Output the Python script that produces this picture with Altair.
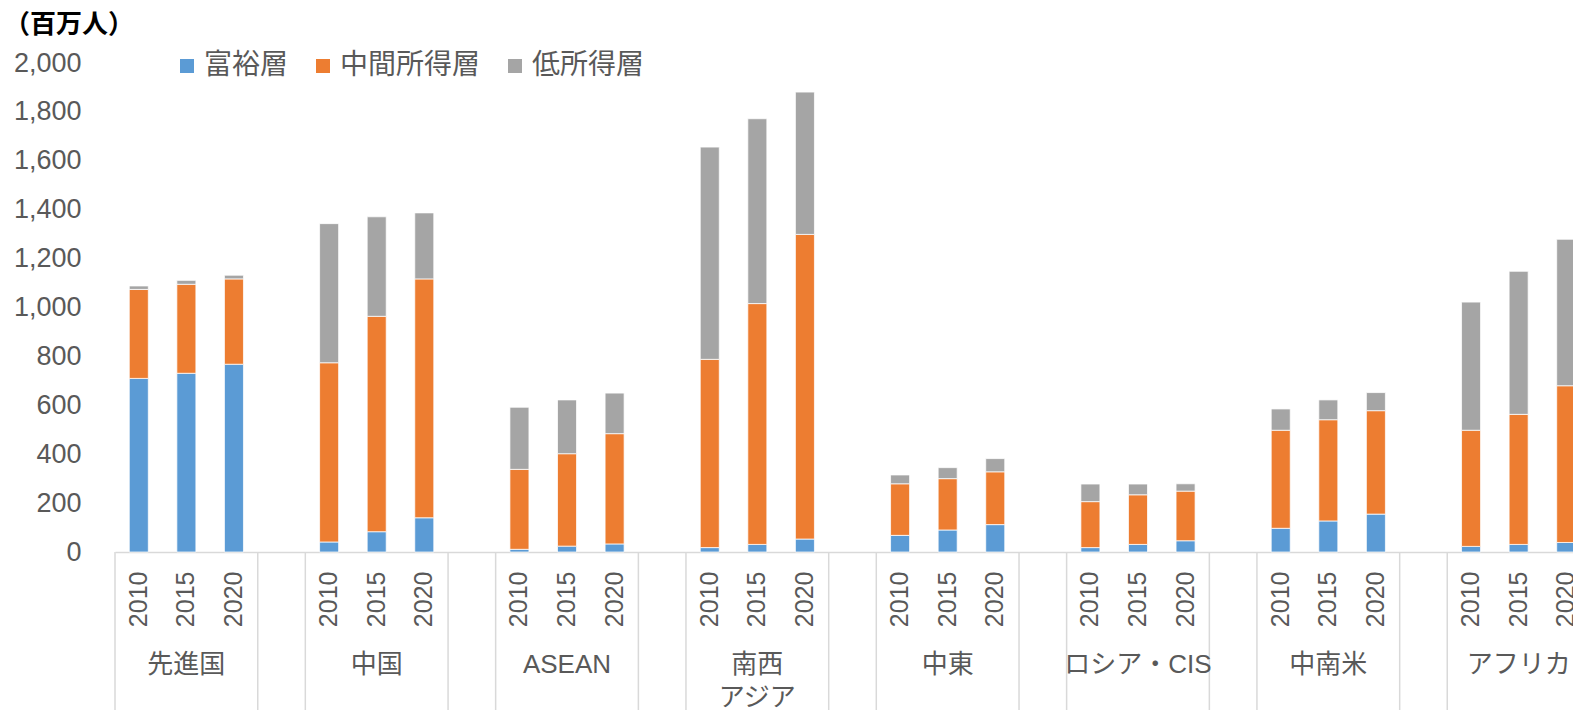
import altair as alt
import pandas as pd

# ---- data ----
region_labels = ["先進国", "中国", "ASEAN", "南西\nアジア", "中東", "ロシア・CIS", "中南米", "アフリカ"]
region_keys = ["先進国", "中国", "ASEAN", "南西アジア", "中東", "ロシアCIS", "中南米", "アフリカ"]
years = ["2010", "2015", "2020"]
series = ["富裕層", "中間所得層", "低所得層"]
colors = ["#5B9BD5", "#ED7D31", "#A5A5A5"]

# values per region, in order 2010, 2015, 2020 (millions of people)
rich = {
    "先進国": [710, 731, 768],
    "中国": [41, 83, 140],
    "ASEAN": [11, 24, 33],
    "南西アジア": [18, 31, 53],
    "中東": [68, 90, 112],
    "ロシアCIS": [18, 31, 46],
    "中南米": [97, 127, 155],
    "アフリカ": [23, 31, 39],
}
middle = {
    "先進国": [364, 364, 349],
    "中国": [733, 881, 977],
    "ASEAN": [327, 378, 451],
    "南西アジア": [770, 985, 1246],
    "中東": [211, 210, 216],
    "ロシアCIS": [188, 203, 203],
    "中南米": [401, 414, 423],
    "アフリカ": [475, 532, 641],
}
low = {
    "先進国": [14, 16, 15],
    "中国": [569, 407, 270],
    "ASEAN": [254, 220, 166],
    "南西アジア": [868, 756, 582],
    "中東": [36, 45, 54],
    "ロシアCIS": [72, 44, 30],
    "中南米": [87, 81, 74],
    "アフリカ": [524, 585, 599],
}
y_ticks = list(range(0, 2001, 200))
unit_title = "（百万人）"

# ---- build tables ----
cats = []
for i, k in enumerate(region_keys):
    for y in years:
        cats.append(f"{k}|{y}")
    if i < len(region_keys) - 1:
        cats.append(f"g{i}|")

rows = []
for k in region_keys:
    for j, y in enumerate(years):
        for o, (s, src) in enumerate(zip(series, [rich, middle, low])):
            rows.append({"cat": f"{k}|{y}", "series": s, "ord": o, "value": src[k][j]})
bars_df = pd.DataFrame(rows)

sep_cats = [f"{k}|2010" for k in region_keys] + [f"g{i}|" for i in range(len(region_keys) - 1)]
sep_df = pd.DataFrame({"cat": sep_cats})

lab_df = pd.DataFrame({"cat": [f"{k}|2015" for k in region_keys], "label": region_labels})
title_df = pd.DataFrame({"t": [unit_title]})

PLOT_W = 1458
PLOT_H = 489
RANGE_W = 1475

xscale = alt.Scale(domain=cats, range=[0, RANGE_W], paddingInner=0, paddingOuter=0)
TEXT = "#595959"
LATIN = "Liberation Sans, Noto Sans CJK JP"
CJK = "Noto Sans CJK JP"

bars = alt.Chart(bars_df).mark_bar(
    width=alt.RelativeBandSize(0.4), stroke="white", strokeWidth=0.75
).encode(
    x=alt.X(
        "cat:N",
        scale=xscale,
        sort=cats,
        axis=alt.Axis(
            title=None,
            labelExpr="split(datum.label, '|')[1]",
            labelAngle=-90,
            labelFontSize=25,
            labelFont=LATIN,
            labelColor=TEXT,
            labelPadding=19,
            ticks=False,
            tickSize=0,
            domainColor="#D9D9D9",
            domainWidth=1.5,
            grid=False,
            labelOverlap=False,
        ),
    ),
    y=alt.Y(
        "value:Q",
        stack="zero",
        scale=alt.Scale(domain=[0, 2000], nice=False),
        axis=alt.Axis(
            title=None,
            values=y_ticks,
            format=",d",
            labelFontSize=27,
            labelFont=LATIN,
            labelColor=TEXT,
            labelPadding=34,
            ticks=False,
            tickSize=0,
            domain=False,
            grid=False,
        ),
    ),
    color=alt.Color(
        "series:N",
        scale=alt.Scale(domain=series, range=colors),
        legend=alt.Legend(
            orient="none",
            legendX=58,
            legendY=-11,
            direction="horizontal",
            title=None,
            symbolType="square",
            symbolSize=196,
            symbolStrokeWidth=0,
            labelFontSize=28,
            labelFont=CJK,
            labelColor=TEXT,
            labelOffset=3,
            columnPadding=20,
            padding=0,
        ),
    ),
    order=alt.Order("ord:Q", sort="ascending"),
)

seps = alt.Chart(sep_df).mark_rule(color="#D9D9D9", strokeWidth=1.5).encode(
    x=alt.X("cat:N", scale=xscale, sort=cats, bandPosition=0),
    y=alt.value(PLOT_H),
    y2=alt.value(PLOT_H + 170),
)

region_text = alt.Chart(lab_df).mark_text(
    baseline="top", align="center", fontSize=26, font=LATIN, color=TEXT,
    lineBreak="\n", lineHeight=33,
).encode(
    x=alt.X("cat:N", scale=xscale, sort=cats),
    y=alt.value(PLOT_H + 100),
    text="label:N",
)

title_text = alt.Chart(title_df).mark_text(
    baseline="middle", align="center", fontSize=26, font=CJK, fontWeight="bold", color="#000000",
).encode(
    x=alt.value(-46),
    y=alt.value(-38),
    text="t:N",
)

chart = alt.layer(bars, seps, region_text, title_text).properties(
    width=PLOT_W,
    height=PLOT_H,
    autosize=alt.AutoSizeParams(type="none"),
    padding={"left": 115, "top": 63, "right": 0, "bottom": 158},
).configure_view(stroke=None)

chart.save("out.html", embed_options={"renderer": "svg", "actions": False})
